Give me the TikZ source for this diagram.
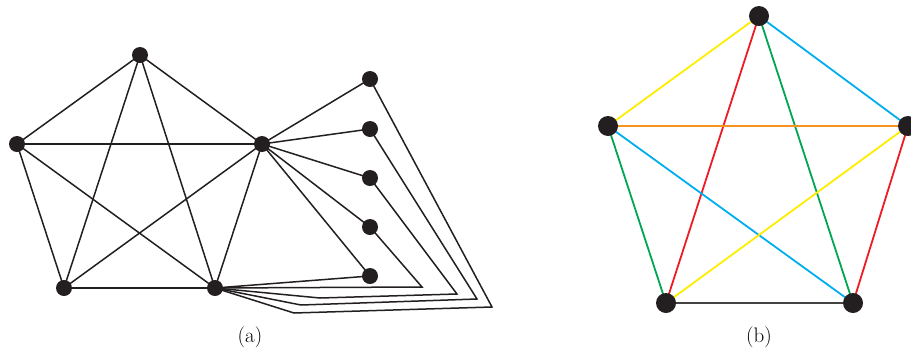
\documentclass[tikz,border=0pt]{standalone}
\usepackage{fontspec}
\setmainfont{Latin Modern Roman}
\definecolor{kyellow}{RGB}{255,237,0}
\definecolor{kcyan}{RGB}{0,174,239}
\definecolor{kred}{RGB}{237,28,36}
\definecolor{kgreen}{RGB}{0,166,81}
\definecolor{korange}{RGB}{247,148,29}
\definecolor{kdark}{RGB}{35,31,32}
\tikzset{
  vtx/.style={circle,fill=kdark,inner sep=0pt,minimum size=16pt},
  bvtx/.style={circle,fill=kdark,inner sep=0pt,minimum size=20pt},
  aedge/.style={draw=kdark,line width=1.5pt,line join=miter},
  bedge/.style={line width=1.8pt},
  caption/.style={font=\fontsize{21}{25}\selectfont,inner sep=0pt}
}
\begin{document}
\begin{tikzpicture}[x=1pt,y=-1pt]
\useasboundingbox (0,0) rectangle (911,349);
% ---------- (a) ----------
\coordinate (Ta) at (140,55);
\coordinate (La) at (17,144);
\coordinate (Ra) at (262,144);
\coordinate (BLa) at (64,288);
\coordinate (BRa) at (215,288);
\coordinate (P1) at (370,79);
\coordinate (P2) at (370,129);
\coordinate (P3) at (370,178);
\coordinate (P4) at (370,227);
\coordinate (P5) at (370,276);
\coordinate (c4) at (422,287);
\coordinate (c3a) at (320,298);
\coordinate (c3b) at (457,294);
\coordinate (c2a) at (301,305);
\coordinate (c2b) at (477,299);
\coordinate (c1a) at (294,313);
\coordinate (c1b) at (492,307);
\foreach \a/\b in {Ta/La,Ta/Ra,Ta/BLa,Ta/BRa,La/Ra,La/BLa,La/BRa,Ra/BLa,Ra/BRa,BLa/BRa,
  Ra/P1,Ra/P2,Ra/P3,Ra/P4,Ra/P5,BRa/P5}
  \path[aedge] (\a) -- (\b);
\path[aedge] (BRa) -- (c4) -- (P4);
\path[aedge] (BRa) -- (c3a) -- (c3b) -- (P3);
\path[aedge] (BRa) -- (c2a) -- (c2b) -- (P2);
\path[aedge] (BRa) -- (c1a) -- (c1b) -- (P1);
\foreach \n in {Ta,La,Ra,BLa,BRa,P1,P2,P3,P4,P5}
  \node[vtx] (n\n) at (\n) {};
\node[caption] (capa) at (250,337) {(a)};
% ---------- (b) ----------
\coordinate (T) at (759,16);
\coordinate (L) at (608,126);
\coordinate (R) at (908,126);
\coordinate (BL) at (666,303);
\coordinate (BR) at (853,303);
\draw[bedge,kyellow] (T) -- (L);
\draw[bedge,kcyan] (T) -- (R);
\draw[bedge,kred] (T) -- (BL);
\draw[bedge,kgreen] (T) -- (BR);
\draw[bedge,korange] (L) -- (R);
\draw[bedge,kgreen] (L) -- (BL);
\draw[bedge,kcyan] (L) -- (BR);
\draw[bedge,kyellow] (R) -- (BL);
\draw[bedge,kred] (R) -- (BR);
\draw[bedge,kdark!85] (BL) -- (BR);
\foreach \n in {T,L,R,BL,BR}
  \node[bvtx] (n\n) at (\n) {};
\node[caption] (capb) at (759,337) {(b)};
\end{tikzpicture}
\end{document}
